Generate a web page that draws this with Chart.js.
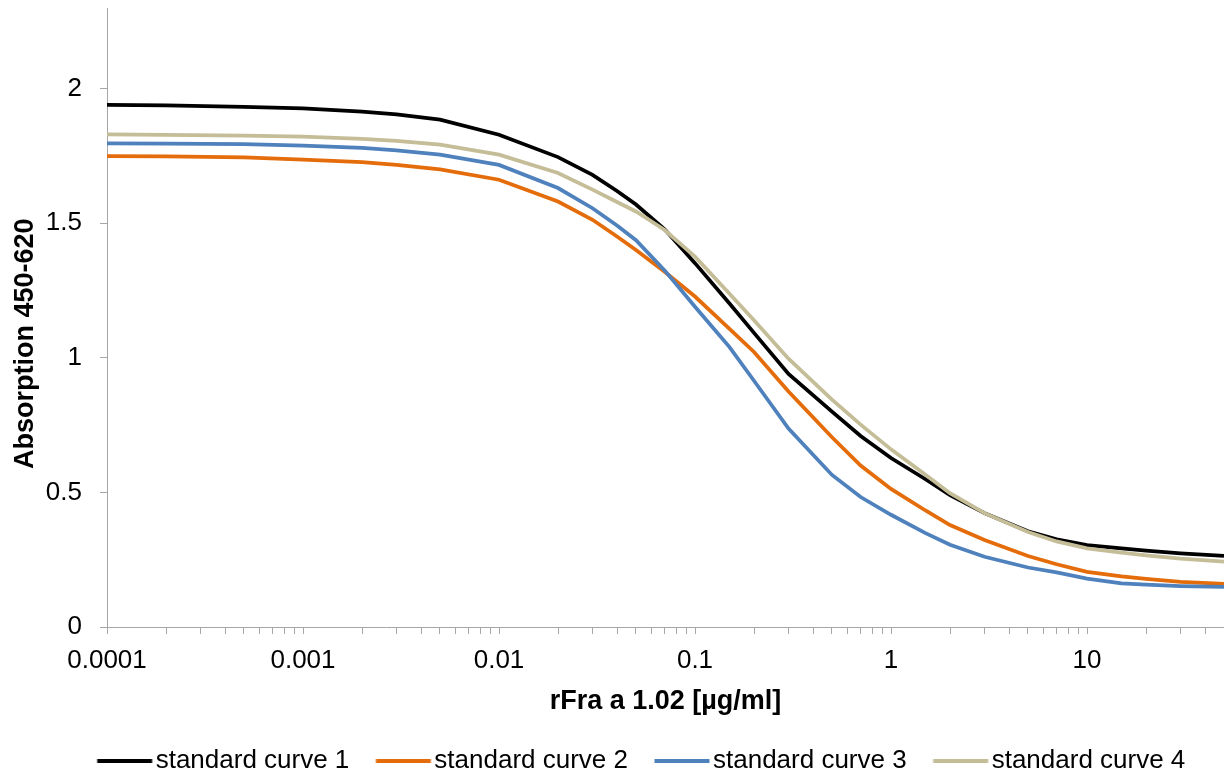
<!DOCTYPE html>
<html>
<head>
<meta charset="utf-8">
<script src="https://cdn.jsdelivr.net/npm/chart.js@4.4.1/dist/chart.umd.min.js"></script>
<style>
  html, body { margin: 0; padding: 0; background: #ffffff; }
  #wrap { width: 1224px; height: 775px; }
</style>
</head>
<body>
<div id="wrap"><canvas id="c" width="1224" height="775"></canvas></div>
<script>
// ---- data ----
const concentrations = [0.0001, 0.0002, 0.0005, 0.001, 0.002, 0.003, 0.005, 0.01, 0.02, 0.03, 0.04, 0.05, 0.07, 0.1, 0.15, 0.2, 0.3, 0.5, 0.7, 1, 1.5, 2, 3, 5, 7, 10, 15, 20, 30, 50];

const curve1 = [1.940, 1.938, 1.933, 1.927, 1.915, 1.905, 1.885, 1.829, 1.746, 1.680, 1.620, 1.570, 1.478, 1.352, 1.202, 1.093, 0.940, 0.800, 0.710, 0.628, 0.549, 0.490, 0.423, 0.356, 0.326, 0.304, 0.292, 0.284, 0.274, 0.264];
const curve2 = [1.750, 1.749, 1.745, 1.737, 1.727, 1.717, 1.700, 1.662, 1.581, 1.513, 1.451, 1.401, 1.320, 1.228, 1.108, 1.022, 0.875, 0.705, 0.600, 0.513, 0.433, 0.379, 0.323, 0.264, 0.233, 0.205, 0.188, 0.179, 0.168, 0.160];
const curve3 = [1.797, 1.796, 1.794, 1.789, 1.780, 1.771, 1.755, 1.717, 1.631, 1.556, 1.492, 1.437, 1.325, 1.190, 1.040, 0.915, 0.737, 0.565, 0.483, 0.417, 0.349, 0.306, 0.261, 0.221, 0.203, 0.180, 0.162, 0.157, 0.152, 0.149];
const curve4 = [1.830, 1.829, 1.826, 1.822, 1.814, 1.806, 1.792, 1.755, 1.687, 1.625, 1.579, 1.544, 1.475, 1.376, 1.238, 1.140, 0.997, 0.845, 0.752, 0.660, 0.566, 0.497, 0.423, 0.353, 0.318, 0.292, 0.276, 0.266, 0.254, 0.243];

const seriesNames = ['standard curve 1', 'standard curve 2', 'standard curve 3', 'standard curve 4'];
const seriesValues = [curve1, curve2, curve3, curve4];

const xTickValues = [0.0001, 0.001, 0.01, 0.1, 1, 10];
const xTickLabels = ['0.0001', '0.001', '0.01', '0.1', '1', '10'];
const yTickValues = [0, 0.5, 1, 1.5, 2];
const yTickLabels = ['0', '0.5', '1', '1.5', '2'];

const xTitle = 'rFra a 1.02 [µg/ml]';
const yTitle = 'Absorption 450-620';

// ---- styling ----
const colors = ['#000000', '#E46C0A', '#4F81BD', '#C4BD97'];
const drawOrder = [4, 3, 2, 1];   // curve 4 drawn on top
const FONT = "'Liberation Sans', Arial, Helvetica, sans-serif";
const AXIS = '#a6a6a6';
const LEGEND_BOX = 62;

function legendGlyph(color) {
  // image is centred on the legend box; put a 55px line ending 3.5px before the text
  const W = 120;
  const c = document.createElement('canvas');
  c.width = W; c.height = 10;
  const g = c.getContext('2d');
  g.fillStyle = color;
  const start = (W / 2 - LEGEND_BOX / 2) + LEGEND_BOX + 13 - 3.5 - 55;
  g.fillRect(start, 3, 55, 4);
  return c;
}

const datasets = seriesValues.map((vals, i) => ({
  label: seriesNames[i],
  data: concentrations.map((x, j) => ({ x: x, y: vals[j] })),
  borderColor: colors[i],
  backgroundColor: colors[i],
  borderWidth: 3.75,
  pointRadius: 0,
  pointHoverRadius: 0,
  pointStyle: legendGlyph(colors[i]),
  tension: 0,
  fill: false,
  order: drawOrder[i]
}));

// shift the legend row horizontally (reference legend is offset to the right)
const legendShift = {
  id: 'legendShift',
  afterLayout(chart) {
    const lg = chart.legend;
    if (lg) { lg.left += 21; lg.right += 21; }
  }
};

new Chart(document.getElementById('c'), {
  type: 'line',
  data: { datasets: datasets },
  plugins: [legendShift],
  options: {
    responsive: false,
    animation: false,
    events: [],
    layout: { padding: { top: 8, right: 0, left: 0, bottom: -9 } },
    plugins: {
      tooltip: { enabled: false },
      legend: {
        position: 'bottom',
        align: 'center',
        labels: {
          usePointStyle: true,
          pointStyleWidth: LEGEND_BOX,
          padding: 10,
          color: '#000000',
          font: { family: FONT, size: 26 },
          sort: (a, b) => a.datasetIndex - b.datasetIndex
        }
      }
    },
    scales: {
      x: {
        type: 'logarithmic',
        min: 0.0001,
        max: 50,
        afterBuildTicks: (scale) => {
          const t = [];
          for (let k = -4; k <= 1; k++) {
            for (let m = 1; m <= 9; m++) {
              const v = m * Math.pow(10, k);
              if (v <= 50 * 1.0000001) t.push({ value: v });
            }
          }
          scale.ticks = t;
        },
        afterFit: (scale) => {
          scale.height = 111;
          scale.paddingLeft = 0; scale.paddingRight = 0;
        },
        ticks: {
          autoSkip: false,
          maxRotation: 0,
          padding: 11,
          color: '#000000',
          font: { family: FONT, size: 26 },
          callback: (value) => {
            const i = xTickValues.findIndex(v => Math.abs(v - value) / v < 1e-6);
            return i >= 0 ? xTickLabels[i] : '';
          }
        },
        grid: { display: true, drawOnChartArea: false, drawTicks: true, tickLength: 7, color: AXIS },
        border: { display: true, color: AXIS, width: 1 },
        title: {
          display: true,
          text: xTitle,
          color: '#000000',
          font: { family: FONT, size: 27, weight: 'bold' },
          padding: { top: 0, bottom: 20 }
        }
      },
      y: {
        type: 'linear',
        min: 0,
        max: 2.3,
        afterBuildTicks: (scale) => { scale.ticks = yTickValues.map(v => ({ value: v })); },
        afterFit: (scale) => {
          scale.width = 107;
          scale.paddingTop = 0; scale.paddingBottom = 0;
        },
        ticks: {
          padding: 18,
          color: '#000000',
          font: { family: FONT, size: 26 },
          callback: (value) => {
            const i = yTickValues.findIndex(v => Math.abs(v - value) < 1e-9);
            return i >= 0 ? yTickLabels[i] : '';
          }
        },
        grid: { display: true, drawOnChartArea: false, drawTicks: true, tickLength: 7, color: AXIS },
        border: { display: true, color: AXIS, width: 1 },
        title: {
          display: true,
          text: yTitle + '       ',
          color: '#000000',
          font: { family: FONT, size: 27, weight: 'bold' },
          padding: { top: 9, bottom: 0 }
        }
      }
    }
  }
});
</script>
</body>
</html>
